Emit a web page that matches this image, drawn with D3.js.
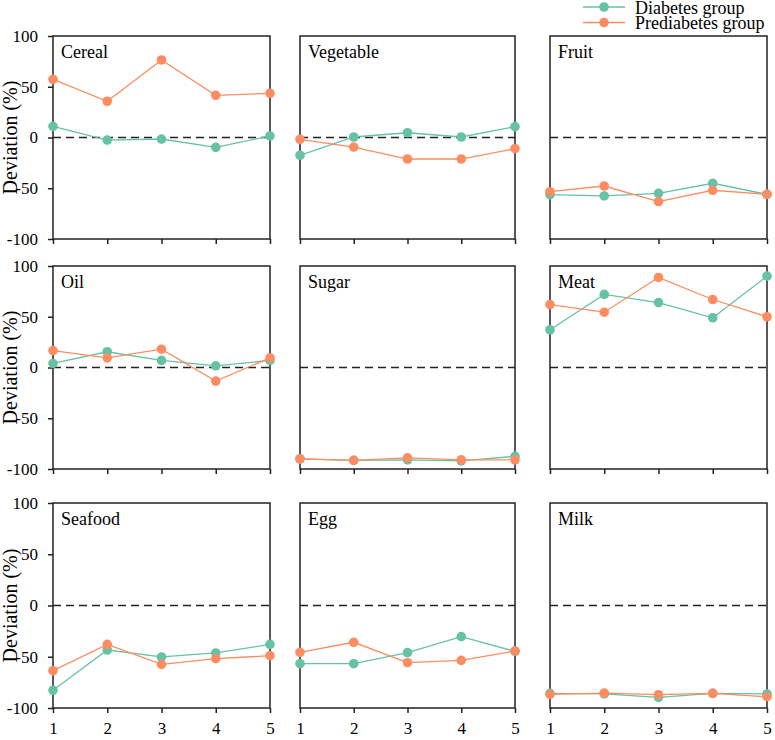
<!DOCTYPE html>
<html>
<head>
<meta charset="utf-8">
<script src="https://cdn.jsdelivr.net/npm/d3@7"></script>
<style>
body{margin:0;background:#fff;}
svg text{font-family:"Liberation Serif","Times New Roman",serif !important;fill:#000;}
</style>
</head>
<body>
<div id="chart"></div>
<script>
var groups = ["1","2","3","4","5"]
var yTicks = [-100,-50,0,50,100]
var seriesNames = ["Diabetes group","Prediabetes group"]
var foods = ["Cereal","Vegetable","Fruit","Oil","Sugar","Meat","Seafood","Egg","Milk"]

var diabetes = [
  [11,-2.5,-1.5,-9.7,1.5],
  [-17.5,0.5,4.7,0.5,10.7],
  [-56.3,-57.6,-55,-45.1,-56],
  [4,15.5,7,1.7,7],
  [-90,-91.5,-91,-92,-87.5],
  [37.2,72,64,49,90],
  [-82.7,-43.4,-50.2,-46.3,-37.9],
  [-56.8,-56.8,-46,-30.4,-44.7],
  [-85.7,-86.3,-89.6,-85.7,-86.3]
]
var prediabetes = [
  [57.3,35.7,76.4,41.6,43.5],
  [-1.8,-9.4,-21.2,-21.2,-11],
  [-53.4,-47.8,-63.2,-52,-56],
  [16.7,9.5,18,-13.4,9.5],
  [-90,-91.5,-89,-91,-91],
  [62,54.5,88.7,67,50],
  [-63.6,-37.9,-57.4,-51.9,-49],
  [-45.7,-35.9,-55.8,-53.5,-44.4],
  [-86.7,-85.4,-87,-85.7,-89]
]

var colors = ["#66c2a5","#fc8d62"]
var serif = "'Liberation Serif','Times New Roman',serif"

var svg = d3.select("#chart")
.append("svg")
.attr("width",775)
.attr("height",740)

var colLeft = [53,300,550]
var colWidth = [217,215,217]
var rowTop = [36,266,503]
var rowHeight = [203,203,205]

function panel(k){
    var c = k % 3, r = Math.floor(k/3)
    var w = colWidth[c], h = rowHeight[r]
    var g = svg.append("g").attr("transform","translate("+colLeft[c]+","+rowTop[r]+")")

    var xScale = d3.scalePoint().domain(groups).range([0,w])
    var yScale = d3.scaleLinear().domain([-100,100]).range([h,0])

    // zero reference line
    g.append("line")
    .attr("x1",0).attr("x2",w)
    .attr("y1",yScale(0)).attr("y2",yScale(0))
    .attr("stroke","#222")
    .attr("stroke-width",1.5)
    .attr("stroke-dasharray","8,5")

    var xAxis = d3.axisBottom(xScale).tickSize(5).tickPadding(9)
    var xg = g.append("g").attr("transform","translate(0,"+h+")").call(xAxis)
    xg.attr("font-family",null).attr("font-size",null)
    xg.select(".domain").remove()
    xg.selectAll("line").attr("stroke","#222").attr("stroke-width",1.5)
    xg.selectAll("text").style("font-family",serif).style("font-size","17px")
    if(r < 2) xg.selectAll("text").remove()

    if(c == 0){
        var yAxis = d3.axisLeft(yScale).tickValues(yTicks)
        .tickFormat(function(d){return String(d)})
        .tickSize(5).tickPadding(10)
        var yg = g.append("g").call(yAxis)
        yg.attr("font-family",null).attr("font-size",null)
        yg.select(".domain").remove()
        yg.selectAll("line").attr("stroke","#222").attr("stroke-width",1.5)
        yg.selectAll("text").style("font-family",serif).style("font-size","17px")

        svg.append("text")
        .text("Deviation (%)")
        .attr("transform","translate(17,"+(rowTop[r]+h/2)+") rotate(-90)")
        .attr("text-anchor","middle")
        .style("font-family",serif)
        .style("font-size","20px")
    }

    g.append("rect")
    .attr("width",w).attr("height",h)
    .attr("fill","none")
    .attr("stroke","#222")
    .attr("stroke-width",1.5)

    g.append("text")
    .text(foods[k])
    .attr("x",8).attr("y",22)
    .style("font-family",serif)
    .style("font-size","18px")

    var ourLine = d3.line()
    .x(function(d,i){return xScale(groups[i])})
    .y(function(d){return yScale(d)})

    var sets = [diabetes[k],prediabetes[k]]
    sets.forEach(function(data,s){
        g.append("path")
        .datum(data)
        .attr("d",ourLine)
        .attr("fill","none")
        .attr("stroke",colors[s])
        .attr("stroke-width",1.3)
        g.selectAll(".pt"+s)
        .data(data)
        .enter().append("circle")
        .attr("class","pt"+s)
        .attr("cx",function(d,i){return xScale(groups[i])})
        .attr("cy",function(d){return yScale(d)})
        .attr("r",4.8)
        .attr("fill",colors[s])
    })
}

for(var k=0;k<foods.length;k++) panel(k)

// legend
var legend = svg.append("g")
seriesNames.forEach(function(name,i){
    var y = 7 + i*15.5
    legend.append("line")
    .attr("x1",583).attr("x2",625)
    .attr("y1",y).attr("y2",y)
    .attr("stroke",colors[i])
    .attr("stroke-width",1.3)
    legend.append("circle")
    .attr("cx",604).attr("cy",y).attr("r",4.8)
    .attr("fill",colors[i])
    legend.append("text")
    .text(name)
    .attr("x",635).attr("y",y+6.5)
    .style("font-family",serif)
    .style("font-size","18px")
})
</script>
</body>
</html>
